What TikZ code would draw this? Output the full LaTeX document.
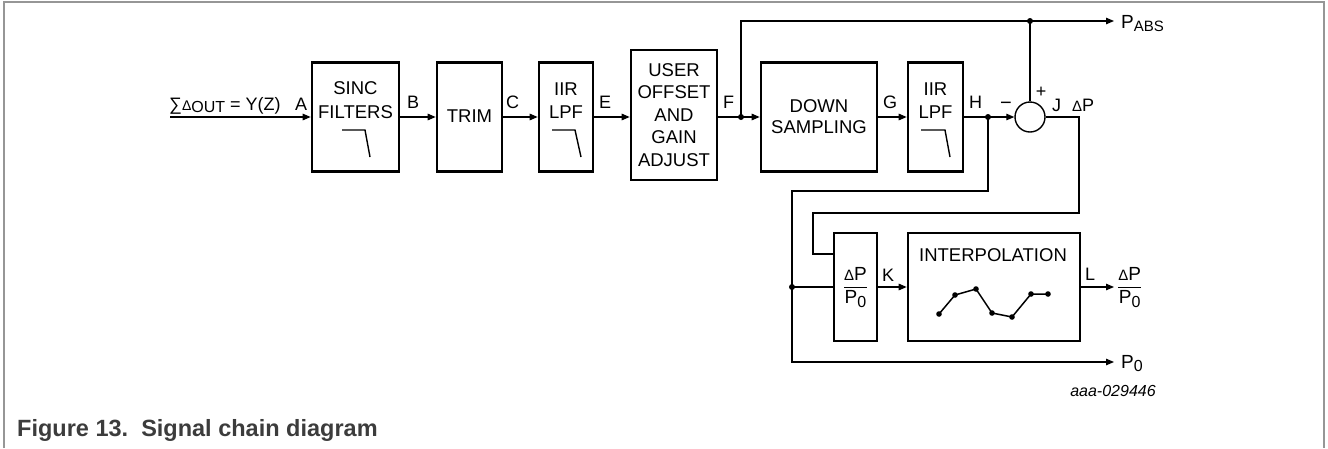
\documentclass[tikz,border=0pt]{standalone}
\usepackage{fontspec}
\setmainfont{Liberation Sans}
\usepackage{amsmath}
\usetikzlibrary{arrows.meta}
\definecolor{capgray}{RGB}{60,60,60}
\definecolor{framegray}{RGB}{150,150,150}
\begin{document}
\begin{tikzpicture}[x=1pt,y=-1pt,
  blk/.style={draw,line width=2.6pt,inner sep=0pt},
  wire/.style={line width=1.2pt},
  arr/.style={wire,-{Triangle[length=8pt,width=6.5pt]}},
  btxt/.style={font=\fontsize{18.5}{#1}\selectfont,align=center,inner sep=0pt},
  lbl/.style={font=\fontsize{18}{20}\selectfont,inner sep=0pt,anchor=base west},
  jdot/.style={circle,fill,inner sep=0pt,minimum size=6pt},
  filt/.style={line width=1.4pt},
  ]
\useasboundingbox (0,0) rectangle (1328,448);
\draw[framegray,line width=1.2pt] (4,448) -- (4,2) -- (1324,2) -- (1324,448);

% blocks
\node[blk,minimum width=87pt,minimum height=109pt] (sinc) at (355.5,117) {};
\node[blk,minimum width=65pt,minimum height=109pt] (trim) at (469.5,117) {};
\node[blk,minimum width=54pt,minimum height=109pt] (iir1) at (566,117) {};
\node[blk,minimum width=86pt,minimum height=130pt] (user) at (674,115) {};
\node[blk,minimum width=116pt,minimum height=109pt] (down) at (819,117) {};
\node[blk,minimum width=55pt,minimum height=109pt] (iir2) at (935.5,117) {};
\node[draw,line width=1.4pt,circle,minimum size=30pt,inner sep=0pt] (sum) at (1030,117) {};
\node[blk,minimum width=43pt,minimum height=108pt] (div) at (855.5,287) {};
\node[blk,minimum width=172pt,minimum height=108pt] (interp) at (994,287) {};

% block texts
\node[btxt=24] (tsinc) at (355.5,100) {SINC\\FILTERS};
\node[btxt=22] (ttrim) at (469.5,116) {TRIM};
\node[btxt=23] (tiir1) at (566,100.5) {IIR\\LPF};
\node[btxt=22.5] (tuser) at (674,115) {USER\\OFFSET\\AND\\GAIN\\ADJUST};
\node[btxt=21.5] (tdown) at (819,116.5) {DOWN\\SAMPLING};
\node[btxt=23] (tiir2) at (935.5,100.5) {IIR\\LPF};
\node[btxt=20] (tinterp) at (993,255) {INTERPOLATION};
\node[anchor=base,inner sep=0pt,font=\fontsize{19}{20}\selectfont] (tdiv) at (855.5,292)
  {$\displaystyle\frac{\text{{\fontsize{15}{15}\selectfont Δ}P}}{\text{P\raisebox{-3.5pt}{\fontsize{16}{16}\selectfont 0}}}$};

% filter symbols
\draw[filt] (342,130) -- (365,130) -- (370,157);
\draw[filt] (552,130) -- (575,130) -- (581,157);
\draw[filt] (921,130) -- (945,130) -- (950,157);

% interpolation curve
\draw[line width=1.5pt] (939,314) -- (955,295) -- (976,289) -- (992,313) -- (1012,317) -- (1031,294) -- (1048,294);
\foreach \p in {(939,314),(955,295),(976,289),(992,313),(1012,317),(1031,294),(1048,294)}
  \fill \p circle (2.8pt);

% connectors
\coordinate (in) at (170,117);
\draw[arr] (in) -- (sinc.west);
\draw[arr] (sinc.east) -- (trim.west);
\draw[arr] (trim.east) -- (iir1.west);
\draw[arr] (iir1.east) -- (user.west |- in);
\node[jdot] (fdot) at (741,117) {};
\draw[wire] (user.east |- in) -- (fdot.center);
\draw[arr] (fdot.center) -- (down.west);
\coordinate (ftop) at (741,21);
\node[jdot] (sdot) at (1030,21) {};
\coordinate (pabs) at (1114,21);
\draw[wire] (fdot.center) -- (ftop) -- (sdot.center);
\draw[arr] (sdot.center) -- (pabs);
\draw[wire] (sdot.center) -- (sum.north);
\draw[arr] (down.east) -- (iir2.west);
\node[jdot] (hdot) at (988,117) {};
\draw[wire] (iir2.east) -- (hdot.center);
\draw[arr] (hdot.center) -- (sum.west);
\coordinate (hlow) at (988,191);
\coordinate (hleft) at (792,191);
\node[jdot] (pdot) at (792,287) {};
\draw[wire] (hdot.center) -- (hlow) -- (hleft) -- (pdot.center) -- (div.west);
\coordinate (p0) at (1114,362);
\draw[arr] (pdot.center) |- (p0);
\coordinate (j1) at (1079,117);
\coordinate (j2) at (1079,213);
\coordinate (j3) at (813,213);
\coordinate (j4) at (813,254);
\coordinate (j5) at (834,254);
\draw[wire] (sum.east) -- (j1) -- (j2) -- (j3) -- (j4) -- (j5);
\draw[arr] (div.east) -- (interp.west);
\coordinate (out) at (1114,287);
\draw[arr] (interp.east) -- (out);

% labels
\node[lbl] (lin) at (169,110) {∑{\fontsize{14}{14}\selectfont Δ}\raisebox{-2pt}{\fontsize{16}{16}\selectfont OUT} = Y(Z)};
\node[lbl] (la) at (295,110) {A};
\node[lbl] (lb) at (407,108) {B};
\node[lbl] (lc) at (506,108) {C};
\node[lbl] (le) at (599,108) {E};
\node[lbl] (lf) at (723,108) {F};
\node[lbl] (lg) at (883,108) {G};
\node[lbl] (lh) at (969,108) {H};
\node[lbl] (lj) at (1052,111) {J};
\node[lbl] (ldp) at (1072,111) {{\fontsize{15}{15}\selectfont Δ}P};
\node[font=\fontsize{20}{20}\selectfont,inner sep=0pt] (lminus) at (1006,106) {−};
\node[font=\fontsize{18}{18}\selectfont,inner sep=0pt] (lplus) at (1041,92) {+};
\node[lbl] (lk) at (882,281) {K};
\node[lbl] (ll) at (1085,280) {L};
\node[lbl,font=\fontsize{19}{20}\selectfont] (lpabs) at (1121,28) {P\raisebox{-3.5pt}{\fontsize{15}{15}\selectfont ABS}};
\node[anchor=base west,inner sep=0pt,font=\fontsize{19}{20}\selectfont] (lout) at (1117,292)
  {$\displaystyle\frac{\text{{\fontsize{15}{15}\selectfont Δ}P}}{\text{P\raisebox{-3.5pt}{\fontsize{16}{16}\selectfont 0}}}$};
\node[lbl,font=\fontsize{19}{20}\selectfont] (lp0) at (1121,368) {P\raisebox{-3.5pt}{\fontsize{16}{16}\selectfont 0}};
\node[font=\fontsize{16}{16}\selectfont\itshape,inner sep=0pt] (code) at (1113,391) {aaa-029446};
\node[anchor=base west,inner sep=0pt,text=capgray,font=\fontsize{23.5}{24}\selectfont\bfseries] (cap) at (17,436) {Figure 13.\ \ Signal chain diagram};
\end{tikzpicture}
\end{document}
